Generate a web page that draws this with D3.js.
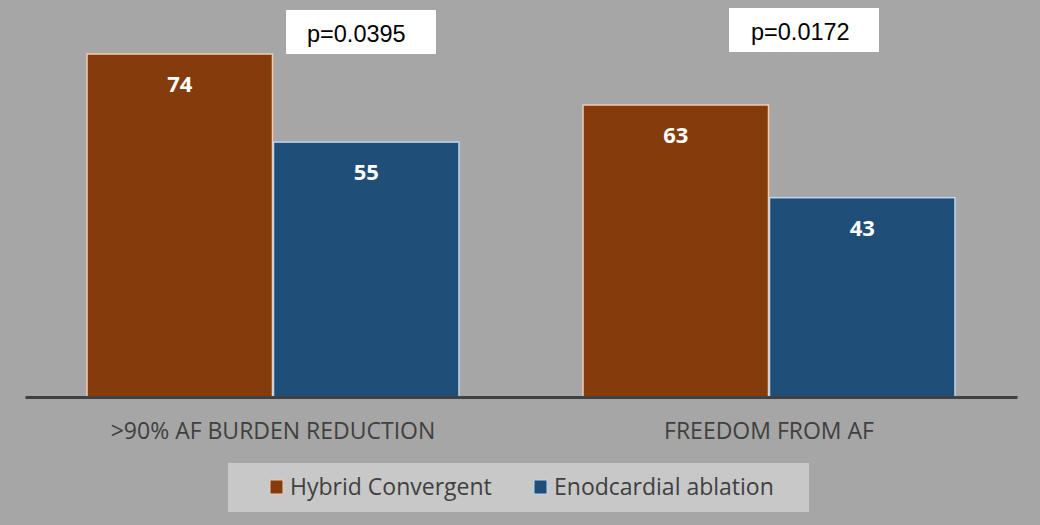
<!DOCTYPE html>
<html>
<head>
<meta charset="utf-8">
<script src="https://cdn.jsdelivr.net/npm/d3@7"></script>
<style>
  body { margin: 0; background: #a6a6a6; }
  svg { display: block; }
</style>
</head>
<body>
<div id="chart"></div>
<script>
'use strict';

// chart data
var categories = ['>90% AF BURDEN REDUCTION', 'FREEDOM FROM AF'];
var seriesNames = ['Hybrid Convergent', 'Enodcardial ablation'];
var hybridValues = [74, 63];
var endoValues = [55, 43];
var pValues = ['p=0.0395', 'p=0.0172'];

var colors = ['#843c0c', '#1f4e79'];
var strokes = ['#f4cbb0', '#bdd7ee'];

// annotation boxes (p-values) - placed by hand like the slide
var pBox = [{ x: 286, y: 10, tx: 307, ty: 42 }, { x: 729, y: 8, tx: 751, ty: 40 }];

var width = 1040, height = 525;

var svg = d3.select('#chart').append('svg')
  .attr('width', width)
  .attr('height', height);

svg.append('rect')
  .attr('width', width).attr('height', height)
  .attr('fill', '#a6a6a6');

var x0 = d3.scaleBand()
  .domain(categories)
  .range([25, 1017])
  .paddingInner(0.248)
  .paddingOuter(0.124);

var x1 = d3.scaleBand()
  .domain(seriesNames)
  .range([0, x0.bandwidth()]);

var y = d3.scaleLinear()
  .domain([0, 74])
  .range([397, 54]);

var rows = categories.map(function(c, i) {
  return { cat: c, vals: [hybridValues[i], endoValues[i]], p: pValues[i] };
});

var groups = svg.selectAll('g.group')
  .data(rows)
  .enter().append('g')
  .attr('class', 'group')
  .attr('transform', function(d) { return 'translate(' + x0(d.cat) + ',0)'; });

var bars = groups.selectAll('g.bar')
  .data(function(d) {
    return d.vals.map(function(v, j) { return { name: seriesNames[j], v: v, j: j }; });
  })
  .enter().append('g');

bars.append('rect')
  .attr('x', function(d) { return x1(d.name) + 0.5; })
  .attr('y', function(d) { return y(d.v); })
  .attr('width', x1.bandwidth() - 1)
  .attr('height', function(d) { return y(0) - y(d.v); })
  .attr('fill', function(d) { return colors[d.j]; })
  .attr('stroke', function(d) { return strokes[d.j]; })
  .attr('stroke-width', 1.5);

bars.append('text')
  .attr('x', function(d) { return x1(d.name) + x1.bandwidth() / 2; })
  .attr('y', function(d) { return y(d.v) + 38; })
  .attr('text-anchor', 'middle')
  .attr('font-family', 'Open Sans, sans-serif')
  .attr('font-weight', 'bold')
  .attr('font-size', 22)
  .attr('fill', '#ffffff')
  .text(function(d) { return d.v; });

// p-value boxes
var pg = svg.selectAll('g.pval')
  .data(pValues)
  .enter().append('g')
  .attr('class', 'pval');

pg.append('rect')
  .attr('x', function(d, i) { return pBox[i].x; })
  .attr('y', function(d, i) { return pBox[i].y; })
  .attr('width', 150)
  .attr('height', 44)
  .attr('fill', '#ffffff');

pg.append('text')
  .attr('x', function(d, i) { return pBox[i].tx; })
  .attr('y', function(d, i) { return pBox[i].ty; })
  .attr('font-family', 'Liberation Sans, Arial, sans-serif')
  .attr('font-size', 23.5)
  .attr('fill', '#000000')
  .text(function(d) { return d; });

// x axis
var xAxis = svg.append('g')
  .attr('transform', 'translate(0,' + y(0) + ')')
  .call(d3.axisBottom(x0).tickSize(0).tickPadding(26));

xAxis.select('.domain')
  .attr('stroke', '#404040')
  .attr('stroke-width', 3);

xAxis.selectAll('text')
  .attr('font-family', 'Open Sans, sans-serif')
  .attr('font-size', 23)
  .attr('fill', '#404040');

// legend
var legend = svg.append('g');
legend.append('rect')
  .attr('x', 228).attr('y', 463)
  .attr('width', 581).attr('height', 49)
  .attr('fill', '#c8c8c8');

var legendX = [270, 534];
var items = legend.selectAll('g.item')
  .data(seriesNames)
  .enter().append('g')
  .attr('transform', function(d, i) { return 'translate(' + legendX[i] + ',480)'; });

items.append('rect')
  .attr('width', 13).attr('height', 14)
  .attr('fill', function(d, i) { return colors[i]; })
  .attr('stroke', function(d, i) { return strokes[i]; })
  .attr('stroke-width', 1);

items.append('text')
  .attr('x', 20).attr('y', 15)
  .attr('font-family', 'Open Sans, sans-serif')
  .attr('font-size', 23)
  .attr('fill', '#404040')
  .text(function(d) { return d; });
</script>
</body>
</html>
